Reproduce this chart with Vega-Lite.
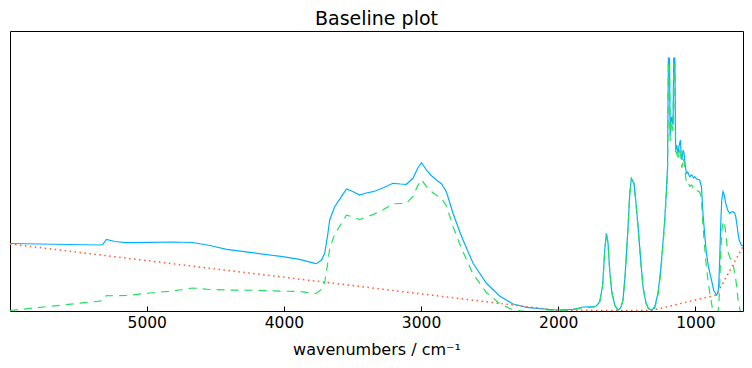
{
  "$schema": "https://vega.github.io/schema/vega-lite/v6.json",
  "width": 733,
  "height": 280,
  "autosize": {"type": "none"},
  "padding": {"left": 10, "top": 31, "right": 9, "bottom": 57},
  "background": "white",
  "title": {"text": "Baseline plot", "fontSize": 19, "font": "DejaVu Sans", "fontWeight": "normal", "color": "black", "anchor": "middle", "baseline": "bottom", "offset": 2, "dy": 19},
  "config": {"view": {"stroke": "black", "strokeWidth": 1}, "font": "DejaVu Sans"},
  "datasets": {
    "spectrum": [
      {"wn": 5997, "a": 0.675}, {"wn": 5343, "a": 0.66}, {"wn": 5321, "a": 0.665}, {"wn": 5294, "a": 0.715},
      {"wn": 5233, "a": 0.695}, {"wn": 5148, "a": 0.683}, {"wn": 4978, "a": 0.687}, {"wn": 4811, "a": 0.69},
      {"wn": 4665, "a": 0.685}, {"wn": 4541, "a": 0.655}, {"wn": 4417, "a": 0.617}, {"wn": 4198, "a": 0.577},
      {"wn": 4009, "a": 0.543}, {"wn": 3885, "a": 0.517}, {"wn": 3775, "a": 0.477}, {"wn": 3761, "a": 0.475},
      {"wn": 3726, "a": 0.51}, {"wn": 3702, "a": 0.58}, {"wn": 3681, "a": 0.76}, {"wn": 3666, "a": 0.91},
      {"wn": 3630, "a": 1.043}, {"wn": 3581, "a": 1.143}, {"wn": 3544, "a": 1.22}, {"wn": 3506, "a": 1.2},
      {"wn": 3447, "a": 1.16}, {"wn": 3400, "a": 1.18}, {"wn": 3350, "a": 1.193}, {"wn": 3280, "a": 1.23},
      {"wn": 3205, "a": 1.277}, {"wn": 3150, "a": 1.27}, {"wn": 3107, "a": 1.267}, {"wn": 3059, "a": 1.327},
      {"wn": 3024, "a": 1.43}, {"wn": 2997, "a": 1.483}, {"wn": 2961, "a": 1.41}, {"wn": 2930, "a": 1.36},
      {"wn": 2888, "a": 1.31}, {"wn": 2850, "a": 1.27}, {"wn": 2815, "a": 1.19}, {"wn": 2767, "a": 0.977},
      {"wn": 2718, "a": 0.793}, {"wn": 2694, "a": 0.71}, {"wn": 2621, "a": 0.477}, {"wn": 2524, "a": 0.277},
      {"wn": 2427, "a": 0.15}, {"wn": 2330, "a": 0.07}, {"wn": 2232, "a": 0.037}, {"wn": 2135, "a": 0.023},
      {"wn": 2013, "a": 0.01}, {"wn": 1892, "a": 0.017}, {"wn": 1819, "a": 0.04}, {"wn": 1746, "a": 0.043},
      {"wn": 1722, "a": 0.05}, {"wn": 1698, "a": 0.09}, {"wn": 1676, "a": 0.26}, {"wn": 1661, "a": 0.61},
      {"wn": 1649, "a": 0.777}, {"wn": 1637, "a": 0.68}, {"wn": 1625, "a": 0.41}, {"wn": 1610, "a": 0.19},
      {"wn": 1588, "a": 0.06}, {"wn": 1564, "a": 0.01}, {"wn": 1545, "a": 0.03}, {"wn": 1528, "a": 0.11},
      {"wn": 1512, "a": 0.36}, {"wn": 1491, "a": 0.843}, {"wn": 1479, "a": 1.16}, {"wn": 1467, "a": 1.327},
      {"wn": 1457, "a": 1.3}, {"wn": 1448, "a": 1.277}, {"wn": 1435, "a": 1.11}, {"wn": 1418, "a": 0.843},
      {"wn": 1399, "a": 0.51}, {"wn": 1382, "a": 0.243}, {"wn": 1362, "a": 0.09}, {"wn": 1344, "a": 0.03},
      {"wn": 1321, "a": 0.005}, {"wn": 1297, "a": 0.04}, {"wn": 1273, "a": 0.177}, {"wn": 1253, "a": 0.41},
      {"wn": 1238, "a": 0.66}, {"wn": 1224, "a": 0.91}, {"wn": 1209, "a": 1.26}, {"wn": 1203, "a": 1.45},
      {"wn": 1197, "a": 2.53}, {"wn": 1189, "a": 2.53}, {"wn": 1184, "a": 1.75}, {"wn": 1175, "a": 1.943},
      {"wn": 1169, "a": 1.91}, {"wn": 1163, "a": 1.86}, {"wn": 1158, "a": 2.53}, {"wn": 1150, "a": 2.53},
      {"wn": 1144, "a": 1.61}, {"wn": 1136, "a": 1.66}, {"wn": 1127, "a": 1.577}, {"wn": 1118, "a": 1.66},
      {"wn": 1109, "a": 1.71}, {"wn": 1104, "a": 1.56}, {"wn": 1098, "a": 1.51}, {"wn": 1090, "a": 1.61},
      {"wn": 1083, "a": 1.577}, {"wn": 1074, "a": 1.46}, {"wn": 1066, "a": 1.377}, {"wn": 1056, "a": 1.39},
      {"wn": 1042, "a": 1.343}, {"wn": 1027, "a": 1.36}, {"wn": 1012, "a": 1.33}, {"wn": 1005, "a": 1.343},
      {"wn": 991, "a": 1.32}, {"wn": 969, "a": 1.31}, {"wn": 956, "a": 1.243}, {"wn": 945, "a": 0.977},
      {"wn": 932, "a": 0.76}, {"wn": 920, "a": 0.577}, {"wn": 903, "a": 0.43}, {"wn": 883, "a": 0.31},
      {"wn": 867, "a": 0.21}, {"wn": 847, "a": 0.16}, {"wn": 837, "a": 0.18}, {"wn": 830, "a": 0.243},
      {"wn": 823, "a": 0.51}, {"wn": 816, "a": 0.843}, {"wn": 808, "a": 1.11}, {"wn": 799, "a": 1.193},
      {"wn": 790, "a": 1.16}, {"wn": 779, "a": 1.077}, {"wn": 765, "a": 1.01}, {"wn": 750, "a": 0.977},
      {"wn": 739, "a": 0.99}, {"wn": 726, "a": 0.993}, {"wn": 714, "a": 0.98}, {"wn": 706, "a": 0.943},
      {"wn": 697, "a": 0.86}, {"wn": 689, "a": 0.777}, {"wn": 681, "a": 0.71}, {"wn": 665, "a": 0.66},
      {"wn": 653, "a": 0.65}
    ],
    "baseline": [
      {"wn": 5997, "a": 0.67}, {"wn": 2013, "a": 0.007}, {"wn": 1321, "a": 0.005}, {"wn": 847, "a": 0.16}, {"wn": 653, "a": 0.645}
    ],
    "corrected": [
      {"wn": 5997, "a": 0.005}, {"wn": 5343, "a": 0.099}, {"wn": 5321, "a": 0.108}, {"wn": 5294, "a": 0.155},
      {"wn": 5233, "a": 0.152}, {"wn": 5148, "a": 0.155}, {"wn": 4978, "a": 0.18}, {"wn": 4811, "a": 0.2},
      {"wn": 4665, "a": 0.23}, {"wn": 4541, "a": 0.215}, {"wn": 4417, "a": 0.21}, {"wn": 4198, "a": 0.207},
      {"wn": 4009, "a": 0.198}, {"wn": 3885, "a": 0.195}, {"wn": 3775, "a": 0.177}, {"wn": 3761, "a": 0.178},
      {"wn": 3726, "a": 0.218}, {"wn": 3702, "a": 0.292}, {"wn": 3681, "a": 0.476}, {"wn": 3666, "a": 0.628},
      {"wn": 3630, "a": 0.767}, {"wn": 3581, "a": 0.875}, {"wn": 3544, "a": 0.958}, {"wn": 3506, "a": 0.945},
      {"wn": 3447, "a": 0.915}, {"wn": 3400, "a": 0.94}, {"wn": 3350, "a": 0.964}, {"wn": 3280, "a": 1.01},
      {"wn": 3205, "a": 1.072}, {"wn": 3150, "a": 1.075}, {"wn": 3107, "a": 1.078}, {"wn": 3059, "a": 1.146},
      {"wn": 3024, "a": 1.255}, {"wn": 2997, "a": 1.312}, {"wn": 2961, "a": 1.245}, {"wn": 2930, "a": 1.2},
      {"wn": 2888, "a": 1.158}, {"wn": 2850, "a": 1.125}, {"wn": 2815, "a": 1.05}, {"wn": 2767, "a": 0.845},
      {"wn": 2718, "a": 0.669}, {"wn": 2694, "a": 0.59}, {"wn": 2621, "a": 0.369}, {"wn": 2524, "a": 0.185},
      {"wn": 2427, "a": 0.074}, {"wn": 2330, "a": 0.011}, {"wn": 2232, "a": -0.006}, {"wn": 2135, "a": -0.004},
      {"wn": 2013, "a": 0.003}, {"wn": 1892, "a": 0.012}, {"wn": 1819, "a": 0.035}, {"wn": 1746, "a": 0.038},
      {"wn": 1722, "a": 0.045}, {"wn": 1698, "a": 0.085}, {"wn": 1676, "a": 0.255}, {"wn": 1661, "a": 0.605},
      {"wn": 1649, "a": 0.772}, {"wn": 1637, "a": 0.675}, {"wn": 1625, "a": 0.405}, {"wn": 1610, "a": 0.185},
      {"wn": 1588, "a": 0.055}, {"wn": 1564, "a": 0.005}, {"wn": 1545, "a": 0.025}, {"wn": 1528, "a": 0.105},
      {"wn": 1512, "a": 0.355}, {"wn": 1491, "a": 0.838}, {"wn": 1479, "a": 1.155}, {"wn": 1467, "a": 1.322},
      {"wn": 1457, "a": 1.295}, {"wn": 1448, "a": 1.272}, {"wn": 1435, "a": 1.105}, {"wn": 1418, "a": 0.838},
      {"wn": 1399, "a": 0.505}, {"wn": 1382, "a": 0.238}, {"wn": 1362, "a": 0.085}, {"wn": 1344, "a": 0.025},
      {"wn": 1321, "a": 0.0}, {"wn": 1297, "a": 0.027}, {"wn": 1273, "a": 0.156}, {"wn": 1253, "a": 0.383},
      {"wn": 1238, "a": 0.628}, {"wn": 1224, "a": 0.873}, {"wn": 1209, "a": 1.218}, {"wn": 1203, "a": 1.41},
      {"wn": 1197, "a": 2.49}, {"wn": 1189, "a": 2.48}, {"wn": 1184, "a": 1.7}, {"wn": 1175, "a": 1.89},
      {"wn": 1169, "a": 1.855}, {"wn": 1163, "a": 1.8}, {"wn": 1158, "a": 2.47}, {"wn": 1150, "a": 2.47},
      {"wn": 1144, "a": 1.547}, {"wn": 1136, "a": 1.595}, {"wn": 1127, "a": 1.509}, {"wn": 1118, "a": 1.589},
      {"wn": 1109, "a": 1.636}, {"wn": 1104, "a": 1.484}, {"wn": 1098, "a": 1.432}, {"wn": 1090, "a": 1.53},
      {"wn": 1083, "a": 1.495}, {"wn": 1074, "a": 1.375}, {"wn": 1066, "a": 1.289}, {"wn": 1056, "a": 1.299},
      {"wn": 1042, "a": 1.247}, {"wn": 1027, "a": 1.259}, {"wn": 1012, "a": 1.224}, {"wn": 1005, "a": 1.235},
      {"wn": 991, "a": 1.207}, {"wn": 969, "a": 1.19}, {"wn": 956, "a": 1.12}, {"wn": 945, "a": 0.85},
      {"wn": 932, "a": 0.63}, {"wn": 920, "a": 0.44}, {"wn": 903, "a": 0.25}, {"wn": 883, "a": 0.08},
      {"wn": 867, "a": -0.05}, {"wn": 847, "a": -0.1}, {"wn": 837, "a": -0.02}, {"wn": 830, "a": 0.04},
      {"wn": 823, "a": 0.25}, {"wn": 816, "a": 0.55}, {"wn": 808, "a": 0.8}, {"wn": 799, "a": 0.88},
      {"wn": 790, "a": 0.9}, {"wn": 779, "a": 0.78}, {"wn": 765, "a": 0.6}, {"wn": 750, "a": 0.54},
      {"wn": 739, "a": 0.51}, {"wn": 726, "a": 0.47}, {"wn": 714, "a": 0.38}, {"wn": 706, "a": 0.32},
      {"wn": 697, "a": 0.22}, {"wn": 689, "a": 0.11}, {"wn": 681, "a": 0.05}, {"wn": 665, "a": -0.05},
      {"wn": 653, "a": -0.1}
    ]
  },
  "encoding": {
    "x": {
      "field": "wn", "type": "quantitative",
      "scale": {"domain": [5997, 653], "nice": false, "zero": false},
      "axis": {
        "title": "wavenumbers / cm⁻¹", "values": [5000, 4000, 3000, 2000, 1000], "format": "d",
        "grid": false, "domain": false, "tickSize": -5, "tickColor": "black", "tickWidth": 1,
        "labelFont": "DejaVu Sans", "labelFontSize": 15.5, "labelColor": "black", "labelPadding": 9,
        "titleFont": "DejaVu Sans", "titleFontSize": 16, "titleFontWeight": "normal", "titleColor": "black",
        "titleY": 43, "titleBaseline": "alphabetic"
      }
    },
    "y": {
      "field": "a", "type": "quantitative",
      "scale": {"domain": [0, 2.8], "nice": false, "zero": false},
      "axis": null
    }
  },
  "layer": [
    {"data": {"name": "spectrum"}, "mark": {"type": "line", "color": "#00b0ff", "strokeWidth": 1.2, "clip": true}},
    {"data": {"name": "baseline"}, "mark": {"type": "line", "color": "#ff5a2a", "strokeDash": [1.5, 3.5], "strokeWidth": 1.5, "clip": true}},
    {"data": {"name": "corrected"}, "mark": {"type": "line", "color": "#22e060", "strokeDash": [8, 6], "strokeWidth": 1.2, "clip": true}}
  ]
}
